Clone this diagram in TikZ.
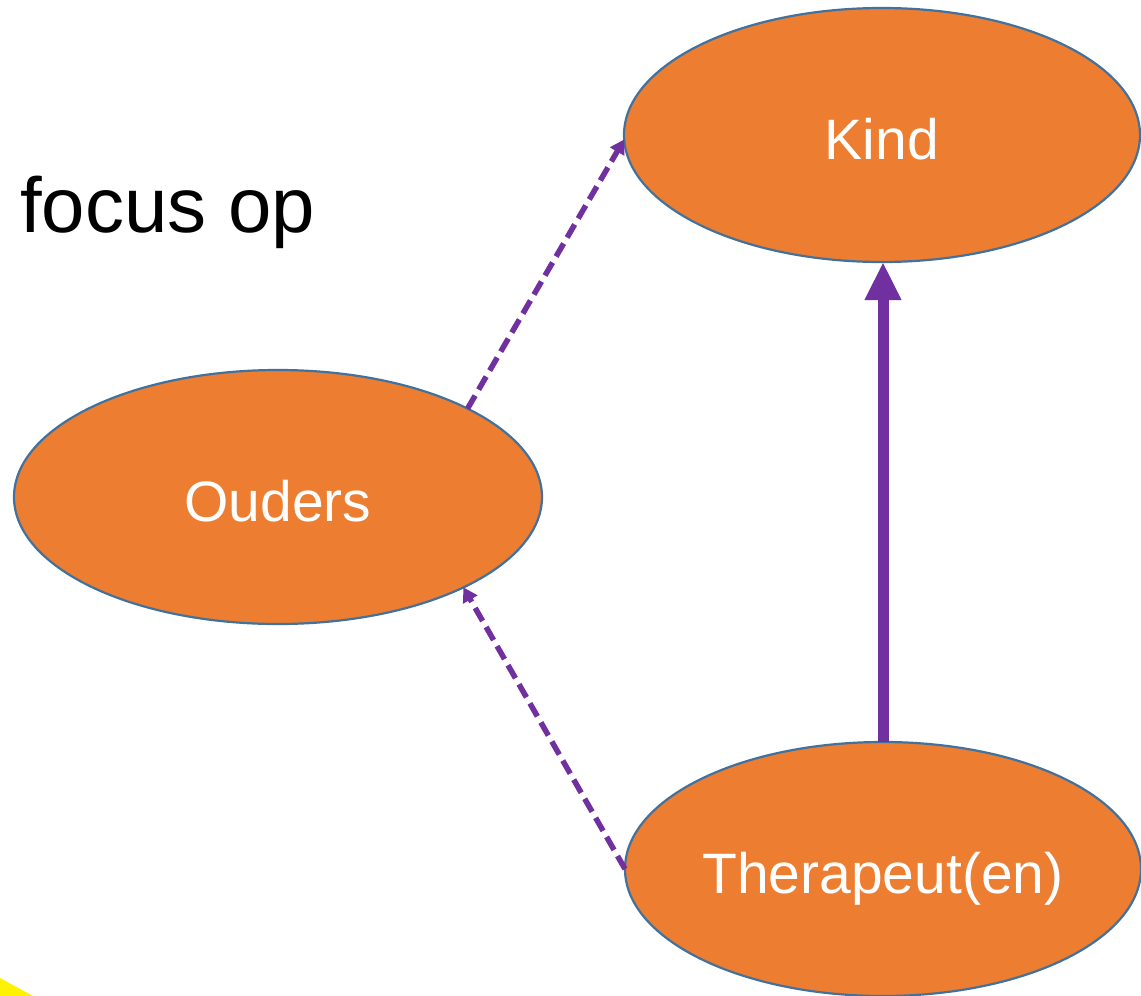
\documentclass[tikz,border=0pt]{standalone}
\usepackage{fontspec}
\setmainfont{Liberation Sans}
\usetikzlibrary{shapes.geometric,arrows.meta}
\definecolor{orng}{HTML}{ED7D31}
\definecolor{prpl}{HTML}{7030A0}
\definecolor{edge}{HTML}{41719C}
\tikzset{
  oval/.style={ellipse, draw=edge, line width=2.2pt, fill=orng, inner sep=0pt, outer sep=0pt,
    minimum width=516pt, minimum height=254pt, text=white,
    font=\fontsize{57}{57}\selectfont, text height=48pt, text depth=0pt},
  solidarrow/.style={draw=prpl, line width=11pt, -{Triangle[width=34pt,length=38pt]}},
  dasharrow/.style={draw=prpl, line width=5.5pt, dash pattern=on 15pt off 7pt,
    -{Triangle[width=16pt,length=14pt]}},
}
\begin{document}
\begin{tikzpicture}[x=1pt,y=-1pt]
\useasboundingbox (0,0) rectangle (1141,996);
\fill[yellow] (0,978) -- (33,996) -- (0,996) -- cycle;
\node[anchor=base west, inner sep=0pt, font=\fontsize{78}{78}\selectfont] (title) at (20,232) {focus op};
\node[oval] (kind) at (882,135) {Kind};
\node[oval, minimum width=528pt] (ouders) at (278,497) {Ouders};
\node[oval] (ther) at (883,869) {Therapeut(en)};
\draw[solidarrow] (ther.north) -- (ther.north |- kind.south);
\draw[dasharrow] (ouders.25) -- (kind.181);
\draw[dasharrow] (ther.180) -- (ouders.-26);
\end{tikzpicture}
\end{document}
